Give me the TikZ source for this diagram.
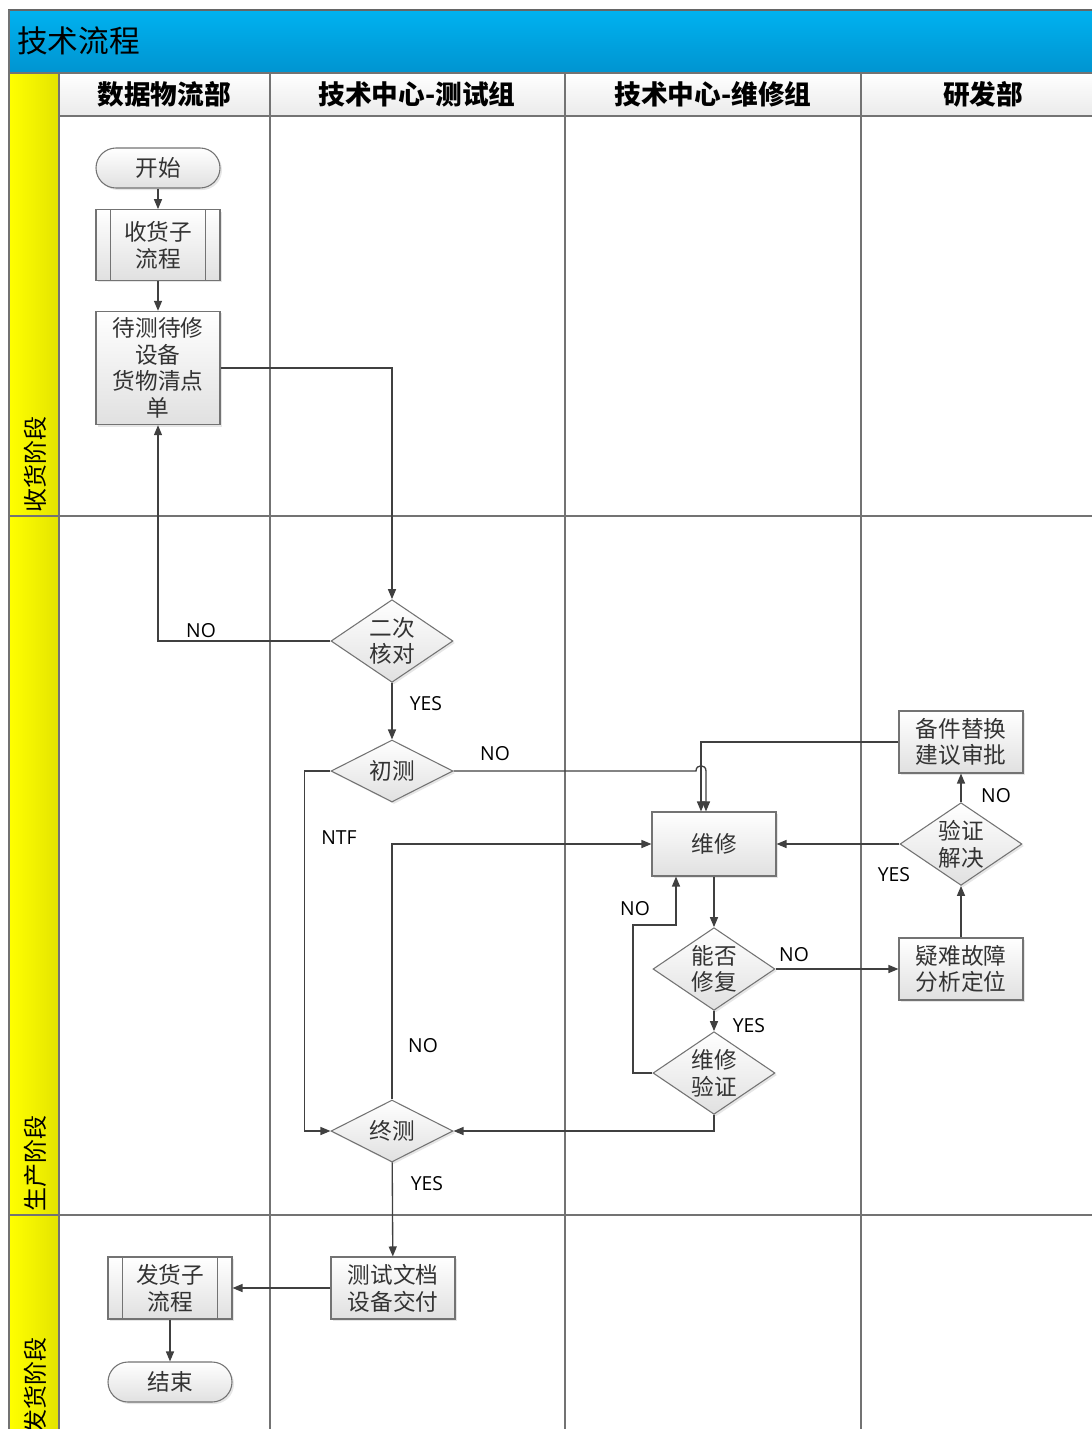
\documentclass[tikz,border=0pt]{standalone}
\usepackage{fontspec}
\newfontfamily\cjk{Noto Sans CJK SC}
\newfontfamily\lab{Open Sans}
\usetikzlibrary{shapes.geometric,arrows.meta,shadows}
\definecolor{barTop}{RGB}{0,178,240}
\definecolor{barBot}{RGB}{0,148,208}
\definecolor{laneYel}{RGB}{255,255,0}
\definecolor{laneYelD}{RGB}{228,228,0}

\begin{document}
\begin{tikzpicture}[x=0.75pt,y=0.75pt,yscale=-1,xscale=1,
  flow/.style={draw=black!55,line width=0.8pt,top color=white,bottom color=black!12,drop shadow={shadow xshift=1.5pt,shadow yshift=-1.5pt,opacity=0.2},font=\cjk\fontsize{17}{20}\selectfont,text=black!80,align=center,inner sep=0pt},
  proc/.style={flow,rectangle,minimum width=93pt,minimum height=46.5pt},
  term/.style={flow,rectangle,rounded corners=15pt,minimum width=93pt,minimum height=30pt},
  decide/.style={flow,diamond,aspect=1.5,minimum width=91.5pt,minimum height=46.5pt},
  arr/.style={draw=black!75,line width=1pt,-{Triangle[length=7.5pt,width=6pt]}},
  lbl/.style={font=\lab\fontsize{14.5}{16}\selectfont,inner sep=0pt},
  lane/.style={draw=black!55,line width=1.1pt},
  head/.style={font=\cjk\bfseries\fontsize{20}{22}\selectfont,inner sep=0pt},
  phase/.style={rotate=90,font=\cjk\fontsize{18}{20}\selectfont,inner sep=0pt}]
\useasboundingbox (0,0) rectangle (1092,1429);
\clip (0,0) rectangle (1092,1429);

% Pool
\draw[draw=black!60,line width=1pt,top color=barTop,bottom color=barBot] (9,10) rectangle (1110,73);
\shade[left color=laneYel,right color=laneYelD] (9,73) rectangle (59,1440);
\shade[top color=white,bottom color=black!8] (59,73) rectangle (1110,116);
\draw[lane] (9,10) -- (9,1440);
\draw[lane] (59,73) -- (59,1440);
\draw[lane] (9,73) -- (1110,73);
\draw[lane] (59,116) -- (1110,116);
\draw[lane] (270,73) -- (270,1440);
\draw[lane] (565,73) -- (565,1440);
\draw[lane] (861,73) -- (861,1440);
\draw[lane] (9,516) -- (1110,516);
\draw[lane] (9,1215) -- (1110,1215);

% Text Node
\node[anchor=west,font=\cjk\fontsize{23}{25}\selectfont,inner sep=0pt] (title) at (17,41) {技术流程};
% Text Node
\node[head] (hData) at (164,94) {数据物流部};
\node[head] (hTest) at (417,94) {技术中心-测试组};
\node[head] (hFix) at (713,94) {技术中心-维修组};
\node[head] (hRD) at (983,94) {研发部};
% Text Node
\node[phase,anchor=west] (pRecv) at (35,513) {收货阶段};
\node[phase,anchor=west] (pMake) at (35,1212) {生产阶段};
\node[phase,anchor=east] (pShip) at (35,1337) {发货阶段};

% Flow Nodes
\node[term] (start) at (158,168) {开始};
\node[proc,minimum height=53pt] (recv) at (158,245) {收货子\\流程};
\node[proc,minimum height=85pt] (list) at (158,368) {待测待修\\设备\\货物清点\\单};
\node[decide,minimum height=62pt] (check2) at (392,641) {二次\\核对};
\node[decide] (pretest) at (392,771) {初测};
\node[proc,minimum height=48pt] (repair) at (714,844) {维修};
\node[decide,minimum height=62pt] (canfix) at (714,969) {能否\\修复};
\node[decide,minimum height=62pt] (verify) at (714,1073) {维修\\验证};
\node[decide] (final) at (392,1131) {终测};
\node[proc] (spare) at (961,742) {备件替换\\建议审批};
\node[decide,minimum height=62pt] (solved) at (961,844) {验证\\解决};
\node[proc] (analyse) at (961,969) {疑难故障\\分析定位};
\node[proc] (doc) at (393,1288) {测试文档\\设备交付};
\node[proc] (ship) at (170,1288) {发货子\\流程};
\node[term] (end) at (170,1382) {结束};

% Subprocess bars
\draw[draw=black!55,line width=0.8pt] ([xshift=11pt]recv.north west) -- ([xshift=11pt]recv.south west);
\draw[draw=black!55,line width=0.8pt] ([xshift=-11pt]recv.north east) -- ([xshift=-11pt]recv.south east);
\draw[draw=black!55,line width=0.8pt] ([xshift=11pt]ship.north west) -- ([xshift=11pt]ship.south west);
\draw[draw=black!55,line width=0.8pt] ([xshift=-11pt]ship.north east) -- ([xshift=-11pt]ship.south east);

% Connectors
\coordinate (hopL) at (696,771);
\coordinate (hopR) at (706,771);
\coordinate (backBend) at (633,925);
\draw[arr] (start) -- (recv);
\draw[arr] (recv) -- (list);
\draw[arr] (list.east) -| (check2.north);
\draw[arr] (check2.west) -| (list.south);
\draw[arr] (check2) -- (pretest);
\draw[arr] (pretest.east) -- (hopL) .. controls +(0,-7) and +(0,-7) .. (hopR) -- (hopR |- repair.north);
\draw[arr] (spare.west) -| ([xshift=-9.75pt]repair.north);
\draw[arr] (repair) -- (canfix);
\draw[arr] (canfix) -- (analyse);
\draw[arr] (canfix) -- (verify);
\draw[arr] (verify.west) -| (backBend) -| ([xshift=-28.5pt]repair.south);
\draw[arr] (verify.south) |- (final.east);
\draw[arr] (analyse) -- (solved);
\draw[arr] (solved) -- (repair);
\draw[arr] (solved) -- (spare);
\draw[arr] (pretest.west) -- ++(-26,0) |- (final.west);
\draw[arr] (final.north) |- (repair.west);
\draw[arr] (final) -- (doc);
\draw[arr] (doc) -- (ship);
\draw[arr] (ship) -- (end);

% Labels
\node[lbl] (l1) at (201,631) {NO};
\node[lbl] (l2) at (426,704) {YES};
\node[lbl] (l3) at (495,754) {NO};
\node[lbl] (l4) at (339,838) {NTF};
\node[lbl] (l5) at (423,1046) {NO};
\node[lbl] (l6) at (427,1184) {YES};
\node[lbl] (l7) at (635,909) {NO};
\node[lbl] (l8) at (794,955) {NO};
\node[lbl] (l9) at (749,1026) {YES};
\node[lbl] (l10) at (894,875) {YES};
\node[lbl] (l11) at (996,796) {NO};

\end{tikzpicture}
\end{document}
